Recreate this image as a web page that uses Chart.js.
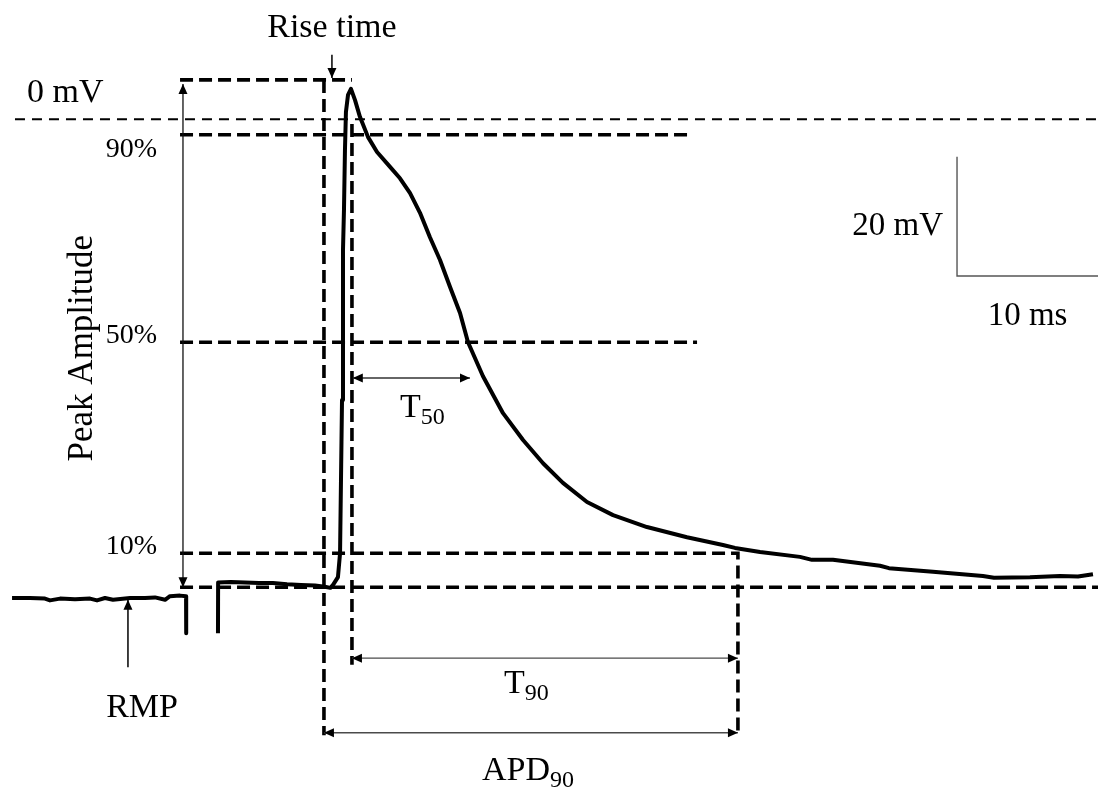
<!DOCTYPE html>
<html>
<head>
<meta charset="utf-8">
<title>Action potential parameters</title>
<script src="https://cdn.jsdelivr.net/npm/chart.js@4"></script>
<style>
  html, body { margin: 0; padding: 0; background: #ffffff; }
  #wrap { width: 1098px; height: 787px; }
</style>
</head>
<body>
<div id="wrap"><canvas id="ap" width="1098" height="787"></canvas></div>
<script>
// Recorded membrane potential trace: time (ms) and voltage (mV).
// null breaks the line at the stimulus artefact.
const timeMs = [
  0.86, 2.14, 3.21, 3.57, 4.29, 5.36, 6.43, 6.93, 7.5, 8.07, 9.29, 10.36, 11.07, 11.79, 12.14, 12.86, 13.29, 13.3,
  14.4,
  15.57, 15.58, 16.5, 17.5, 18.5, 19.5, 20.5, 21.5, 22.5, 23.2, 23.6, 23.79, 24.14, 24.29,
  24.43, 24.5, 24.57, 24.64, 24.71, 24.86, 25.07, 25.36, 25.71, 26.29, 26.93, 27.86, 28.57,
  29.29, 30.0, 30.71, 31.43, 32.14, 32.86, 33.43, 34.5, 35.93, 37.36, 38.79, 40.21, 41.93,
  43.79, 46.21, 49.07, 51.64, 52.5, 54.29, 57.14, 58.0, 59.5, 62.86, 63.5, 66.64, 70.21,
  71.0, 73.57, 75.71, 77.0, 78.07
];
const voltageMv = [
  -80.3, -80.3, -80.4, -80.7, -80.4, -80.5, -80.4, -80.7, -80.3, -80.6, -80.3, -80.3, -80.2, -80.6, -80.0, -79.9, -80.0, -86.2,
  null,
  -86.2, -77.7, -77.6, -77.7, -77.8, -77.8, -78.0, -78.1, -78.2, -78.4, -78.6, -78.1, -76.8, -72.8,
  -47.1, -21.9, -15.2, -5.2, 1.2, 4.1, 5.1, 3.2, 0.4, -3.0, -5.5, -8.0, -9.9,
  -12.4, -15.7, -19.8, -23.6, -28.1, -32.5, -37.4, -43.1, -49.3, -53.8, -57.7, -61.0, -64.2,
  -66.4, -68.4, -70.1, -71.4, -71.9, -72.6, -73.4, -73.9, -73.9, -74.9, -75.3, -75.9, -76.6,
  -76.9, -76.8, -76.6, -76.7, -76.3
];

// Reference levels (mV)
const levelLabels = ['90%', '50%', '10%'];
const levelMv = [-2.6, -37.4, -72.8];
const peakMv = 6.6;
const restMv = -78.5;
const zeroMv = 0;

// Timing marks (ms)
const apdStartMs = 23.14;   // start of depolarisation
const tStartMs = 25.14;     // peak time, start of T50 / T90
const t50EndMs = 33.57;
const t90EndMs = 52.71;

// Scale bar sizes
const scaleBarMs = [10];
const scaleBarMv = [20];

const SERIF = '"Liberation Serif", "Times New Roman", serif';

function arrowHead(ctx, x, y, angle, len, half) {
  ctx.save();
  ctx.translate(x, y);
  ctx.rotate(angle);
  ctx.beginPath();
  ctx.moveTo(0, 0);
  ctx.lineTo(-len, -half);
  ctx.lineTo(-len, half);
  ctx.closePath();
  ctx.fill();
  ctx.restore();
}

function arrow(ctx, x1, y1, x2, y2, opts) {
  const o = Object.assign({ color: '#222', width: 1.3, start: false, end: true, len: 10, half: 4.5 }, opts || {});
  ctx.save();
  ctx.strokeStyle = o.color;
  ctx.fillStyle = '#000';
  ctx.lineWidth = o.width;
  ctx.setLineDash([]);
  ctx.beginPath();
  ctx.moveTo(x1, y1);
  ctx.lineTo(x2, y2);
  ctx.stroke();
  const a = Math.atan2(y2 - y1, x2 - x1);
  if (o.end) arrowHead(ctx, x2, y2, a, o.len, o.half);
  if (o.start) arrowHead(ctx, x1, y1, a + Math.PI, o.len, o.half);
  ctx.restore();
}

function dashed(ctx, pts, width, dash) {
  ctx.save();
  ctx.strokeStyle = '#000';
  ctx.lineWidth = width;
  ctx.setLineDash(dash);
  ctx.lineCap = 'butt';
  ctx.beginPath();
  ctx.moveTo(pts[0][0], pts[0][1]);
  for (let i = 1; i < pts.length; i++) ctx.lineTo(pts[i][0], pts[i][1]);
  ctx.stroke();
  ctx.restore();
}

function subText(ctx, main, sub, x, y, size, subSize) {
  ctx.save();
  ctx.fillStyle = '#000';
  ctx.textBaseline = 'alphabetic';
  ctx.textAlign = 'left';
  ctx.font = size + 'px ' + SERIF;
  const wMain = ctx.measureText(main).width;
  ctx.fillText(main, x, y);
  ctx.font = subSize + 'px ' + SERIF;
  ctx.fillText(sub, x + wMain, y + subSize * 0.3);
  ctx.restore();
}

// Guide lines, arrows and labels around the trace
const guidesPlugin = {
  id: 'apGuides',
  beforeDatasetsDraw(chart) {
    const ctx = chart.ctx;
    const X = v => chart.scales.x.getPixelForValue(v);
    const Y = v => chart.scales.y.getPixelForValue(v);
    const thick = [13, 6];
    const lineStartMs = 12.86;

    // 0 mV reference
    dashed(ctx, [[X(1.07), Y(zeroMv)], [X(78.43), Y(zeroMv)]], 2, [10, 7]);
    // peak level
    dashed(ctx, [[X(lineStartMs), Y(peakMv)], [X(tStartMs), Y(peakMv)]], 3.6, thick);
    // 90 % and 50 %
    dashed(ctx, [[X(lineStartMs), Y(levelMv[0])], [X(49.29), Y(levelMv[0])]], 3.6, thick);
    dashed(ctx, [[X(lineStartMs), Y(levelMv[1])], [X(49.79), Y(levelMv[1])]], 3.6, thick);
    // 10 % level turning down at the end of APD90
    dashed(ctx, [[X(lineStartMs), Y(levelMv[2])], [X(t90EndMs), Y(levelMv[2])], [X(t90EndMs), Y(-103.3)]], 3.6, thick);
    // resting baseline
    dashed(ctx, [[X(lineStartMs), Y(restMv)], [X(78.43), Y(restMv)]], 3.6, thick);
    // vertical marks
    dashed(ctx, [[X(apdStartMs), Y(peakMv)], [X(apdStartMs), Y(-103.3)]], 3.6, thick);
    dashed(ctx, [[X(tStartMs), Y(-0.8)], [X(tStartMs), Y(-91.5)]], 3.6, thick);
  },
  afterDatasetsDraw(chart) {
    const ctx = chart.ctx;
    const X = v => chart.scales.x.getPixelForValue(v);
    const Y = v => chart.scales.y.getPixelForValue(v);

    // arrows
    arrow(ctx, X(23.71), Y(10.8), X(23.71), Y(6.9), { color: '#000', width: 1.5 });
    arrow(ctx, X(13.07), Y(restMv), X(13.07), Y(peakMv - 0.7), { start: true, color: '#111', width: 1.3 });
    arrow(ctx, X(9.14), Y(-91.9), X(9.14), Y(-80.6), { color: '#000', width: 1.5 });
    arrow(ctx, X(25.2), Y(-43.4), X(t50EndMs), Y(-43.4), { start: true, color: '#333' });
    arrow(ctx, X(tStartMs), Y(-90.4), X(t90EndMs), Y(-90.4), { start: true, color: '#4a4a4a' });
    arrow(ctx, X(apdStartMs), Y(-102.9), X(t90EndMs), Y(-102.9), { start: true, color: '#4a4a4a' });

    // scale bar
    const sx = 68.36, sy = -26.3;
    ctx.save();
    ctx.strokeStyle = '#555';
    ctx.lineWidth = 1.4;
    ctx.setLineDash([]);
    ctx.beginPath();
    ctx.moveTo(X(sx), Y(sy + scaleBarMv[0]));
    ctx.lineTo(X(sx), Y(sy));
    ctx.lineTo(X(78.43), Y(sy));
    ctx.stroke();
    ctx.restore();

    // labels
    ctx.save();
    ctx.fillStyle = '#000';
    ctx.textBaseline = 'alphabetic';
    ctx.font = '34px ' + SERIF;
    ctx.textAlign = 'center';
    ctx.fillText('Rise time', X(23.71), Y(13.8));
    ctx.fillText('RMP', X(10.15), Y(-100.3));
    ctx.textAlign = 'left';
    ctx.fillText('0 mV', X(1.93), Y(2.9));
    ctx.font = '33px ' + SERIF;
    ctx.textAlign = 'right';
    ctx.fillText(scaleBarMv[0] + ' mV', X(67.36), Y(-19.4));
    ctx.textAlign = 'center';
    ctx.fillText(scaleBarMs[0] + ' ms', X(73.4), Y(-34.5));
    ctx.font = '28px ' + SERIF;
    ctx.textAlign = 'left';
    const labelBase = [-6.3, -37.5, -73.0];
    levelLabels.forEach((t, i) => ctx.fillText(t, X(7.55), Y(labelBase[i])));
    // rotated amplitude label
    ctx.font = '35px ' + SERIF;
    ctx.translate(X(5.93), Y(-38.4));
    ctx.rotate(-Math.PI / 2);
    ctx.textAlign = 'center';
    ctx.textBaseline = 'middle';
    ctx.fillText('Peak Amplitude', 0, 0);
    ctx.restore();

    subText(ctx, 'T', '50', X(28.57), Y(-49.9), 34, 24);
    subText(ctx, 'T', '90', X(36.0), Y(-96.2), 34, 24);
    subText(ctx, 'APD', '90', X(34.43), Y(-110.8), 34, 24);
  }
};

const points = timeMs.map((t, i) => ({ x: t, y: voltageMv[i] }));

new Chart(document.getElementById('ap'), {
  type: 'line',
  data: {
    datasets: [{
      data: points,
      borderColor: '#000',
      borderWidth: 4,
      pointRadius: 0,
      tension: 0,
      spanGaps: false,
      borderJoinStyle: 'round',
      borderCapStyle: 'butt'
    }]
  },
  options: {
    responsive: false,
    animation: false,
    layout: { padding: 0 },
    plugins: { legend: { display: false }, tooltip: { enabled: false } },
    scales: {
      x: { type: 'linear', min: 0, max: 78.43, display: false },
      y: { type: 'linear', min: -112, max: 20, display: false }
    }
  },
  plugins: [guidesPlugin]
});
</script>
</body>
</html>
